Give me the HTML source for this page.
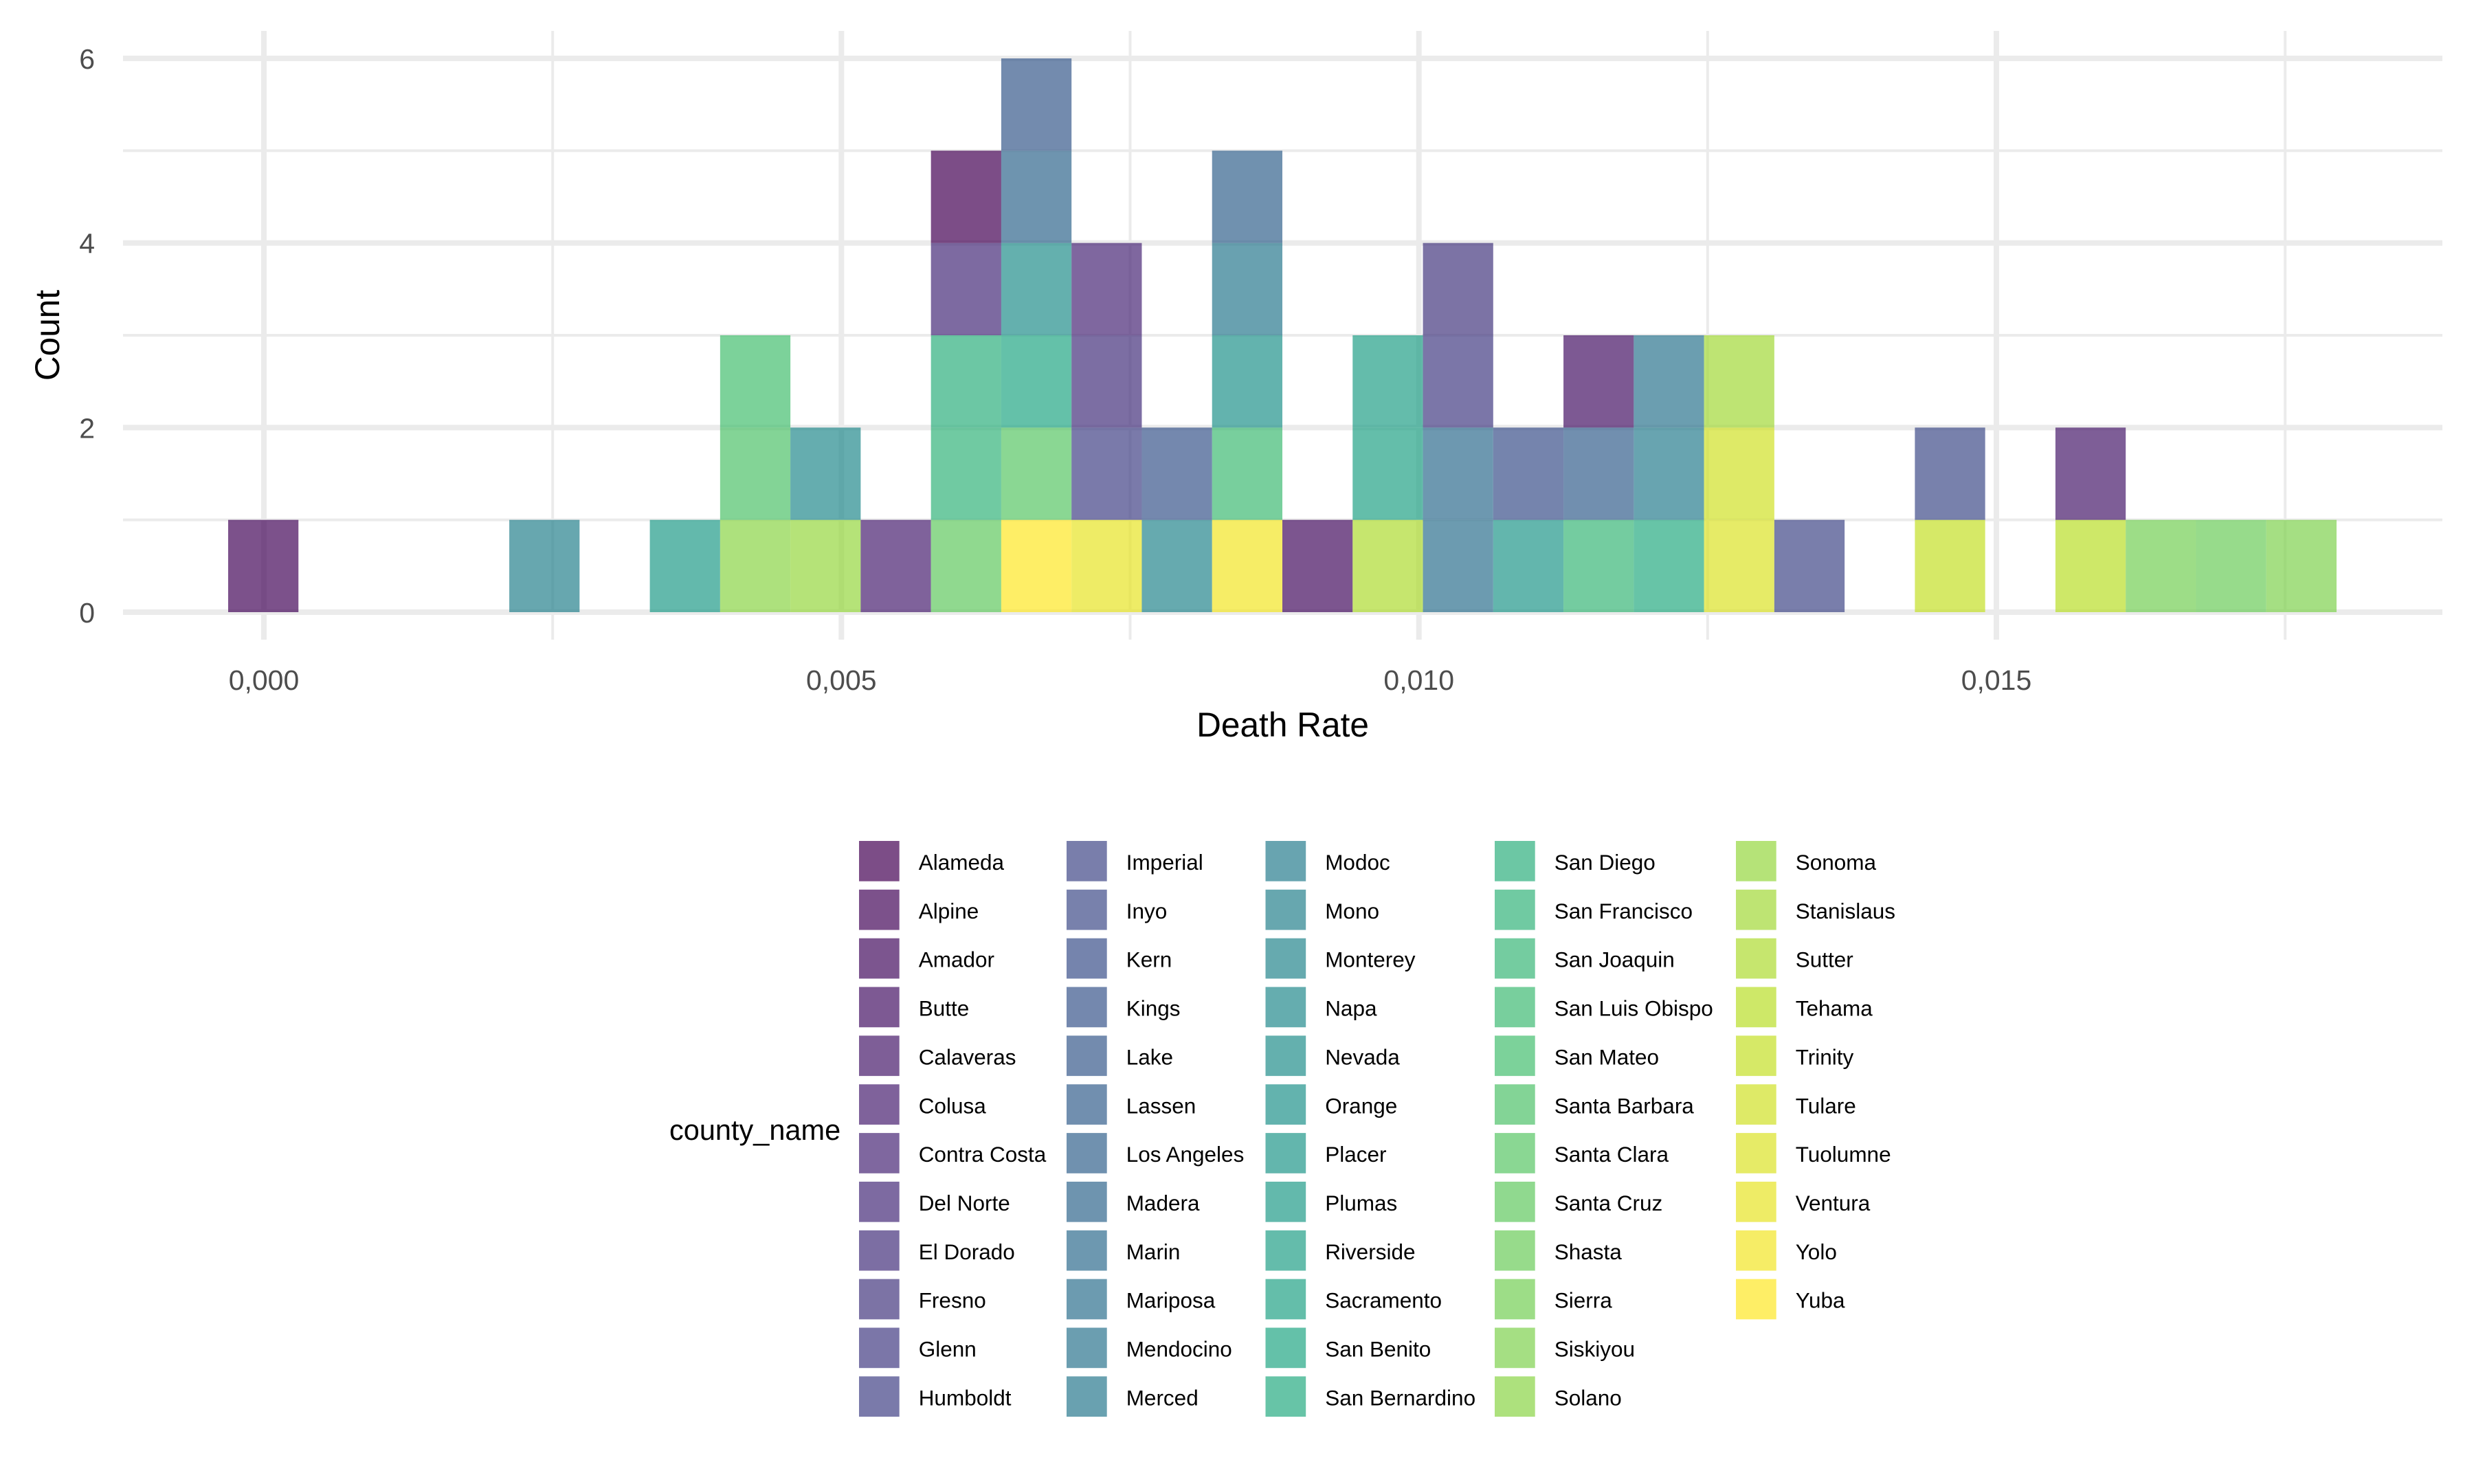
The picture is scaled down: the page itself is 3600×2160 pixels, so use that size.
<!DOCTYPE html>
<html><head><meta charset="utf-8"><style>
html,body{margin:0;padding:0;background:#fff;}
svg{display:block;}
text{font-family:"Liberation Sans",Arial,sans-serif;}
</style></head><body>
<svg width="3600" height="2160" viewBox="0 0 3600 2160" xmlns="http://www.w3.org/2000/svg">
<rect width="3600" height="2160" fill="#fff"/>
<!-- grid -->
<g stroke="#EBEBEB" fill="none">
<g stroke-width="4">
<line x1="179" x2="3554" y1="756.67" y2="756.67"/>
<line x1="179" x2="3554" y1="488" y2="488"/>
<line x1="179" x2="3554" y1="219.33" y2="219.33"/>
<line x1="804.2" x2="804.2" y1="45" y2="931"/>
<line x1="1644.5" x2="1644.5" y1="45" y2="931"/>
<line x1="2484.8" x2="2484.8" y1="45" y2="931"/>
<line x1="3325.2" x2="3325.2" y1="45" y2="931"/>
</g>
<g stroke-width="8">
<line x1="179" x2="3554" y1="891" y2="891"/>
<line x1="179" x2="3554" y1="622.33" y2="622.33"/>
<line x1="179" x2="3554" y1="353.67" y2="353.67"/>
<line x1="179" x2="3554" y1="85" y2="85"/>
<line x1="384" x2="384" y1="45" y2="931"/>
<line x1="1224.3" x2="1224.3" y1="45" y2="931"/>
<line x1="2064.7" x2="2064.7" y1="45" y2="931"/>
<line x1="2905" x2="2905" y1="45" y2="931"/>
</g>
</g>
<!-- bars -->
<g fill-opacity="0.7">
<!-- bin0 -->
<rect x="332" y="756.67" width="102.27" height="134.33" fill="#45075A"/>
<!-- bin4 -->
<rect x="741.07" y="756.67" width="102.27" height="134.33" fill="#27828D"/>
<!-- bin6 -->
<rect x="945.6" y="756.67" width="102.27" height="134.33" fill="#219B89"/>
<!-- bin7 -->
<rect x="1047.87" y="756.67" width="102.27" height="134.33" fill="#8AD446"/>
<rect x="1047.87" y="622.33" width="102.27" height="134.34" fill="#4EC26A"/>
<rect x="1047.87" y="488" width="102.27" height="134.33" fill="#45BF6F"/>
<!-- bin8 -->
<rect x="1150.13" y="756.67" width="102.27" height="134.33" fill="#96D73F"/>
<rect x="1150.13" y="622.33" width="102.27" height="134.34" fill="#238A8D"/>
<!-- bin9 -->
<rect x="1252.4" y="756.67" width="102.27" height="134.33" fill="#482071"/>
<!-- bin10 -->
<rect x="1354.67" y="756.67" width="102.27" height="134.33" fill="#61C95F"/>
<rect x="1354.67" y="622.33" width="102.27" height="134.34" fill="#33B37A"/>
<rect x="1354.67" y="488" width="102.27" height="134.33" fill="#2DAF7E"/>
<rect x="1354.67" y="353.67" width="102.27" height="134.33" fill="#462B79"/>
<rect x="1354.67" y="219.33" width="102.27" height="134.34" fill="#440154"/>
<!-- bin11 -->
<rect x="1456.93" y="756.67" width="102.27" height="134.33" fill="#FDE725"/>
<rect x="1456.93" y="622.33" width="102.27" height="134.34" fill="#58C665"/>
<rect x="1456.93" y="488" width="102.27" height="134.33" fill="#22A784"/>
<rect x="1456.93" y="353.67" width="102.27" height="134.33" fill="#228F8C"/>
<rect x="1456.93" y="219.33" width="102.27" height="134.34" fill="#31678D"/>
<rect x="1456.93" y="85" width="102.27" height="134.33" fill="#375A8C"/>
<!-- bin12 -->
<rect x="1559.2" y="756.67" width="102.27" height="134.33" fill="#E7E425"/>
<rect x="1559.2" y="622.33" width="102.27" height="134.34" fill="#424286"/>
<rect x="1559.2" y="488" width="102.27" height="134.33" fill="#45317C"/>
<rect x="1559.2" y="353.67" width="102.27" height="134.33" fill="#482676"/>
<!-- bin13 -->
<rect x="1661.47" y="756.67" width="102.27" height="134.33" fill="#25868D"/>
<rect x="1661.47" y="622.33" width="102.27" height="134.34" fill="#39558B"/>
<!-- bin14 -->
<rect x="1763.73" y="756.67" width="102.27" height="134.33" fill="#F2E625"/>
<rect x="1763.73" y="622.33" width="102.27" height="134.34" fill="#3FBB73"/>
<rect x="1763.73" y="488" width="102.27" height="134.33" fill="#21938B"/>
<rect x="1763.73" y="353.67" width="102.27" height="134.33" fill="#2A798E"/>
<rect x="1763.73" y="219.33" width="102.27" height="134.34" fill="#33638D"/>
<!-- bin15 -->
<rect x="1866" y="756.67" width="102.27" height="134.33" fill="#450D60"/>
<!-- bin16 -->
<rect x="1968.27" y="756.67" width="102.27" height="134.33" fill="#AEDC30"/>
<rect x="1968.27" y="622.33" width="102.27" height="134.34" fill="#22A386"/>
<rect x="1968.27" y="488" width="102.27" height="134.33" fill="#229F87"/>
<!-- bin17 -->
<rect x="2070.53" y="756.67" width="102.27" height="134.33" fill="#2E708E"/>
<rect x="2070.53" y="622.33" width="102.27" height="134.34" fill="#2F6C8E"/>
<rect x="2070.53" y="488" width="102.27" height="134.33" fill="#433C83"/>
<rect x="2070.53" y="353.67" width="102.27" height="134.33" fill="#44377F"/>
<!-- bin18 -->
<rect x="2172.8" y="756.67" width="102.27" height="134.33" fill="#21978A"/>
<rect x="2172.8" y="622.33" width="102.27" height="134.34" fill="#3B508A"/>
<!-- bin19 -->
<rect x="2275.07" y="756.67" width="102.27" height="134.33" fill="#39B777"/>
<rect x="2275.07" y="622.33" width="102.27" height="134.34" fill="#355F8D"/>
<rect x="2275.07" y="488" width="102.27" height="134.33" fill="#461365"/>
<!-- bin20 -->
<rect x="2377.33" y="756.67" width="102.27" height="134.33" fill="#27AB81"/>
<rect x="2377.33" y="622.33" width="102.27" height="134.34" fill="#287D8E"/>
<rect x="2377.33" y="488" width="102.27" height="134.33" fill="#2C758E"/>
<!-- bin21 -->
<rect x="2479.6" y="756.67" width="102.27" height="134.33" fill="#DBE326"/>
<rect x="2479.6" y="622.33" width="102.27" height="134.34" fill="#D0E126"/>
<rect x="2479.6" y="488" width="102.27" height="134.33" fill="#A2D937"/>
<!-- bin22 -->
<rect x="2581.87" y="756.67" width="102.27" height="134.33" fill="#404788"/>
<!-- bin24 -->
<rect x="2786.4" y="756.67" width="102.27" height="134.33" fill="#C5E026"/>
<rect x="2786.4" y="622.33" width="102.27" height="134.34" fill="#3E4C89"/>
<!-- bin26 -->
<rect x="2990.93" y="756.67" width="102.27" height="134.33" fill="#B9DE28"/>
<rect x="2990.93" y="622.33" width="102.27" height="134.34" fill="#471A6B"/>
<!-- bin27-29 -->
<rect x="3093.2" y="756.67" width="102.27" height="134.33" fill="#74CF54"/>
<rect x="3195.47" y="756.67" width="102.27" height="134.33" fill="#6BCC5A"/>
<rect x="3297.73" y="756.67" width="102.27" height="134.33" fill="#7FD24E"/>
</g>
<!-- axis tick labels -->
<g font-size="41" fill="#4D4D4D">
<g text-anchor="end">
<text x="138" y="906">0</text>
<text x="138" y="637.3">2</text>
<text x="138" y="368.7">4</text>
<text x="138" y="100">6</text>
</g>
<g text-anchor="middle">
<text x="384" y="1004">0,000</text>
<text x="1224.3" y="1004">0,005</text>
<text x="2064.7" y="1004">0,010</text>
<text x="2905" y="1004">0,015</text>
</g>
</g>
<!-- axis titles -->
<text x="1866.5" y="1072" font-size="49.6" text-anchor="middle" fill="#000">Death Rate</text>
<text transform="translate(86,488) rotate(-90)" font-size="49.6" text-anchor="middle" fill="#000">Count</text>
<!-- legend -->
<text x="974" y="1659" font-size="41.5" fill="#000">county_name</text>
<g font-size="31.5" fill="#000">
<g transform="translate(1250,0)">
<g fill-opacity="0.7">
<rect x="0" y="1224" width="58.7" height="58.7" fill="#440154"/>
<rect x="0" y="1294.85" width="58.7" height="58.7" fill="#45075A"/>
<rect x="0" y="1365.7" width="58.7" height="58.7" fill="#450D60"/>
<rect x="0" y="1436.55" width="58.7" height="58.7" fill="#461365"/>
<rect x="0" y="1507.4" width="58.7" height="58.7" fill="#471A6B"/>
<rect x="0" y="1578.25" width="58.7" height="58.7" fill="#482071"/>
<rect x="0" y="1649.1" width="58.7" height="58.7" fill="#482676"/>
<rect x="0" y="1719.95" width="58.7" height="58.7" fill="#462B79"/>
<rect x="0" y="1790.8" width="58.7" height="58.7" fill="#45317C"/>
<rect x="0" y="1861.65" width="58.7" height="58.7" fill="#44377F"/>
<rect x="0" y="1932.5" width="58.7" height="58.7" fill="#433C83"/>
<rect x="0" y="2003.35" width="58.7" height="58.7" fill="#424286"/>
</g>
<text x="86.7" y="1266">Alameda</text>
<text x="86.7" y="1336.85">Alpine</text>
<text x="86.7" y="1407.7">Amador</text>
<text x="86.7" y="1478.55">Butte</text>
<text x="86.7" y="1549.4">Calaveras</text>
<text x="86.7" y="1620.25">Colusa</text>
<text x="86.7" y="1691.1">Contra Costa</text>
<text x="86.7" y="1761.95">Del Norte</text>
<text x="86.7" y="1832.8">El Dorado</text>
<text x="86.7" y="1903.65">Fresno</text>
<text x="86.7" y="1974.5">Glenn</text>
<text x="86.7" y="2045.35">Humboldt</text>
</g>
<g transform="translate(1552,0)">
<g fill-opacity="0.7">
<rect x="0" y="1224" width="58.7" height="58.7" fill="#404788"/>
<rect x="0" y="1294.85" width="58.7" height="58.7" fill="#3E4C89"/>
<rect x="0" y="1365.7" width="58.7" height="58.7" fill="#3B508A"/>
<rect x="0" y="1436.55" width="58.7" height="58.7" fill="#39558B"/>
<rect x="0" y="1507.4" width="58.7" height="58.7" fill="#375A8C"/>
<rect x="0" y="1578.25" width="58.7" height="58.7" fill="#355F8D"/>
<rect x="0" y="1649.1" width="58.7" height="58.7" fill="#33638D"/>
<rect x="0" y="1719.95" width="58.7" height="58.7" fill="#31678D"/>
<rect x="0" y="1790.8" width="58.7" height="58.7" fill="#2F6C8E"/>
<rect x="0" y="1861.65" width="58.7" height="58.7" fill="#2E708E"/>
<rect x="0" y="1932.5" width="58.7" height="58.7" fill="#2C758E"/>
<rect x="0" y="2003.35" width="58.7" height="58.7" fill="#2A798E"/>
</g>
<text x="86.7" y="1266">Imperial</text>
<text x="86.7" y="1336.85">Inyo</text>
<text x="86.7" y="1407.7">Kern</text>
<text x="86.7" y="1478.55">Kings</text>
<text x="86.7" y="1549.4">Lake</text>
<text x="86.7" y="1620.25">Lassen</text>
<text x="86.7" y="1691.1">Los Angeles</text>
<text x="86.7" y="1761.95">Madera</text>
<text x="86.7" y="1832.8">Marin</text>
<text x="86.7" y="1903.65">Mariposa</text>
<text x="86.7" y="1974.5">Mendocino</text>
<text x="86.7" y="2045.35">Merced</text>
</g>
<g transform="translate(1841.5,0)">
<g fill-opacity="0.7">
<rect x="0" y="1224" width="58.7" height="58.7" fill="#287D8E"/>
<rect x="0" y="1294.85" width="58.7" height="58.7" fill="#27828D"/>
<rect x="0" y="1365.7" width="58.7" height="58.7" fill="#25868D"/>
<rect x="0" y="1436.55" width="58.7" height="58.7" fill="#238A8D"/>
<rect x="0" y="1507.4" width="58.7" height="58.7" fill="#228F8C"/>
<rect x="0" y="1578.25" width="58.7" height="58.7" fill="#21938B"/>
<rect x="0" y="1649.1" width="58.7" height="58.7" fill="#21978A"/>
<rect x="0" y="1719.95" width="58.7" height="58.7" fill="#219B89"/>
<rect x="0" y="1790.8" width="58.7" height="58.7" fill="#229F87"/>
<rect x="0" y="1861.65" width="58.7" height="58.7" fill="#22A386"/>
<rect x="0" y="1932.5" width="58.7" height="58.7" fill="#22A784"/>
<rect x="0" y="2003.35" width="58.7" height="58.7" fill="#27AB81"/>
</g>
<text x="86.7" y="1266">Modoc</text>
<text x="86.7" y="1336.85">Mono</text>
<text x="86.7" y="1407.7">Monterey</text>
<text x="86.7" y="1478.55">Napa</text>
<text x="86.7" y="1549.4">Nevada</text>
<text x="86.7" y="1620.25">Orange</text>
<text x="86.7" y="1691.1">Placer</text>
<text x="86.7" y="1761.95">Plumas</text>
<text x="86.7" y="1832.8">Riverside</text>
<text x="86.7" y="1903.65">Sacramento</text>
<text x="86.7" y="1974.5">San Benito</text>
<text x="86.7" y="2045.35">San Bernardino</text>
</g>
<g transform="translate(2175,0)">
<g fill-opacity="0.7">
<rect x="0" y="1224" width="58.7" height="58.7" fill="#2DAF7E"/>
<rect x="0" y="1294.85" width="58.7" height="58.7" fill="#33B37A"/>
<rect x="0" y="1365.7" width="58.7" height="58.7" fill="#39B777"/>
<rect x="0" y="1436.55" width="58.7" height="58.7" fill="#3FBB73"/>
<rect x="0" y="1507.4" width="58.7" height="58.7" fill="#45BF6F"/>
<rect x="0" y="1578.25" width="58.7" height="58.7" fill="#4EC26A"/>
<rect x="0" y="1649.1" width="58.7" height="58.7" fill="#58C665"/>
<rect x="0" y="1719.95" width="58.7" height="58.7" fill="#61C95F"/>
<rect x="0" y="1790.8" width="58.7" height="58.7" fill="#6BCC5A"/>
<rect x="0" y="1861.65" width="58.7" height="58.7" fill="#74CF54"/>
<rect x="0" y="1932.5" width="58.7" height="58.7" fill="#7FD24E"/>
<rect x="0" y="2003.35" width="58.7" height="58.7" fill="#8AD446"/>
</g>
<text x="86.7" y="1266">San Diego</text>
<text x="86.7" y="1336.85">San Francisco</text>
<text x="86.7" y="1407.7">San Joaquin</text>
<text x="86.7" y="1478.55">San Luis Obispo</text>
<text x="86.7" y="1549.4">San Mateo</text>
<text x="86.7" y="1620.25">Santa Barbara</text>
<text x="86.7" y="1691.1">Santa Clara</text>
<text x="86.7" y="1761.95">Santa Cruz</text>
<text x="86.7" y="1832.8">Shasta</text>
<text x="86.7" y="1903.65">Sierra</text>
<text x="86.7" y="1974.5">Siskiyou</text>
<text x="86.7" y="2045.35">Solano</text>
</g>
<g transform="translate(2526,0)">
<g fill-opacity="0.7">
<rect x="0" y="1224" width="58.7" height="58.7" fill="#96D73F"/>
<rect x="0" y="1294.85" width="58.7" height="58.7" fill="#A2D937"/>
<rect x="0" y="1365.7" width="58.7" height="58.7" fill="#AEDC30"/>
<rect x="0" y="1436.55" width="58.7" height="58.7" fill="#B9DE28"/>
<rect x="0" y="1507.4" width="58.7" height="58.7" fill="#C5E026"/>
<rect x="0" y="1578.25" width="58.7" height="58.7" fill="#D0E126"/>
<rect x="0" y="1649.1" width="58.7" height="58.7" fill="#DBE326"/>
<rect x="0" y="1719.95" width="58.7" height="58.7" fill="#E7E425"/>
<rect x="0" y="1790.8" width="58.7" height="58.7" fill="#F2E625"/>
<rect x="0" y="1861.65" width="58.7" height="58.7" fill="#FDE725"/>
</g>
<text x="86.7" y="1266">Sonoma</text>
<text x="86.7" y="1336.85">Stanislaus</text>
<text x="86.7" y="1407.7">Sutter</text>
<text x="86.7" y="1478.55">Tehama</text>
<text x="86.7" y="1549.4">Trinity</text>
<text x="86.7" y="1620.25">Tulare</text>
<text x="86.7" y="1691.1">Tuolumne</text>
<text x="86.7" y="1761.95">Ventura</text>
<text x="86.7" y="1832.8">Yolo</text>
<text x="86.7" y="1903.65">Yuba</text>
</g>
</g>
</svg>
</body></html>
